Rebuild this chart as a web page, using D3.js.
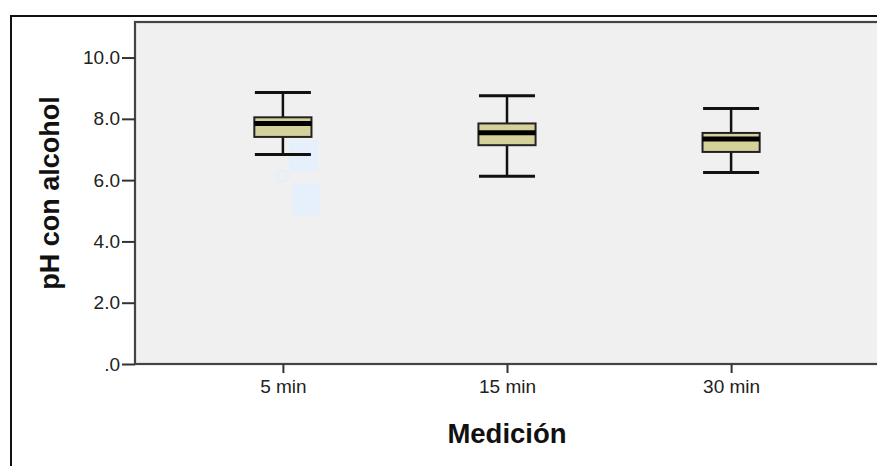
<!DOCTYPE html>
<html>
<head>
<meta charset="utf-8">
<script src="https://cdn.jsdelivr.net/npm/d3@7"></script>
<style>
	body { margin: 0; background: #fff; }
	svg { display: block; font-family: 'Liberation Sans', Arial, sans-serif; }
</style>
</head>
<body>
<div id="vis"></div>
<script>
// DATA
let groups = ['5 min', '15 min', '30 min'];
let whiskerLow = [6.84, 6.13, 6.25];
let q1 = [7.41, 7.14, 6.92];
let medians = [7.85, 7.55, 7.34];
let q3 = [8.05, 7.85, 7.54];
let whiskerHigh = [8.86, 8.75, 8.34];
let outliers = [{ group: '5 min', value: 6.13 }];
let yTicks = [0, 2, 4, 6, 8, 10];

// PARAMETERS
let width = 877,
	height = 466,
	plot = { left: 135, top: 22, right: 879, bottom: 364 };

// SCALES
let x = d3
		.scalePoint()
		.domain(groups)
		.range([plot.left, plot.right])
		.padding(0.66),
	y = d3
		.scaleLinear()
		.domain([0, 11.16])
		.range([plot.bottom, plot.top]);

let boxWidth = x.step() * 0.255,
	capWidth = x.step() * 0.125;

let svg = d3
	.select('#vis')
	.append('svg')
	.attr('width', width)
	.attr('height', height);

// OUTER FRAME
svg
	.append('rect')
	.attr('x', 11)
	.attr('y', 16)
	.attr('width', width)
	.attr('height', height)
	.attr('fill', 'none')
	.attr('stroke', '#111')
	.attr('stroke-width', 2);

// PLOT AREA (runs past the right edge of the picture)
svg
	.append('rect')
	.attr('x', plot.left)
	.attr('y', plot.top)
	.attr('width', plot.right - plot.left + 20)
	.attr('height', plot.bottom - plot.top)
	.attr('fill', '#f0f0f0')
	.attr('stroke', '#444')
	.attr('stroke-width', 2.2);

// AXES
let yAxis = d3
	.axisLeft(y)
	.tickValues(yTicks)
	.tickSize(13)
	.tickPadding(2)
	.tickFormat(d => (d === 0 ? '.0' : d3.format('.1f')(d)));

let gy = svg
	.append('g')
	.attr('transform', `translate(${plot.left}, 0)`)
	.call(yAxis);
gy.select('.domain').remove();
gy.selectAll('line').attr('stroke', '#333').attr('stroke-width', 2);
gy.selectAll('text')
	.attr('fill', '#222')
	.style('font-size', '19px');

let xAxis = d3.axisBottom(x).tickSize(9).tickPadding(7);
let gx = svg
	.append('g')
	.attr('transform', `translate(0, ${plot.bottom})`)
	.call(xAxis);
gx.select('.domain').remove();
gx.selectAll('line').attr('stroke', '#333').attr('stroke-width', 2);
gx.selectAll('text')
	.attr('fill', '#222')
	.style('font-size', '19px');

// AXIS TITLES
svg
	.append('text')
	.attr('transform', `translate(59, ${(plot.top + plot.bottom) / 2}) rotate(-90)`)
	.attr('text-anchor', 'middle')
	.attr('font-weight', 'bold')
	.attr('fill', '#111')
	.style('font-size', '27px')
	.text('pH con alcohol');

svg
	.append('text')
	.attr('x', x('15 min'))
	.attr('y', 443)
	.attr('text-anchor', 'middle')
	.attr('font-weight', 'bold')
	.attr('fill', '#111')
	.style('font-size', '27.5px')
	.text('Medición');

// OUTLIERS (faint, with blanked label boxes)
let out = svg.append('g').selectAll('g').data(outliers).enter().append('g');
out
	.append('rect')
	.attr('x', d => x(d.group) + 6)
	.attr('y', d => y(d.value) - 36)
	.attr('width', 29)
	.attr('height', 31)
	.attr('fill', '#e6f0fc');
out
	.append('rect')
	.attr('x', d => x(d.group) + 9)
	.attr('y', d => y(d.value) + 7)
	.attr('width', 28)
	.attr('height', 32)
	.attr('fill', '#e6f0fc');
out
	.append('circle')
	.attr('cx', d => x(d.group))
	.attr('cy', d => y(d.value))
	.attr('r', 5.5)
	.attr('fill', 'none')
	.attr('stroke', '#e6eef8')
	.attr('stroke-width', 2);

// BOXES
let boxes = svg
	.append('g')
	.selectAll('g')
	.data(groups)
	.enter()
	.append('g');

// whiskers
boxes
	.append('line')
	.attr('x1', d => x(d))
	.attr('x2', d => x(d))
	.attr('y1', (d, i) => y(whiskerLow[i]))
	.attr('y2', (d, i) => y(whiskerHigh[i]))
	.attr('stroke', '#111')
	.attr('stroke-width', 2.5);

['low', 'high'].forEach(end => {
	boxes
		.append('line')
		.attr('x1', d => x(d) - capWidth)
		.attr('x2', d => x(d) + capWidth)
		.attr('y1', (d, i) => y(end === 'low' ? whiskerLow[i] : whiskerHigh[i]))
		.attr('y2', (d, i) => y(end === 'low' ? whiskerLow[i] : whiskerHigh[i]))
		.attr('stroke', '#111')
		.attr('stroke-width', 3);
});

// box
boxes
	.append('rect')
	.attr('x', d => x(d) - boxWidth / 2)
	.attr('y', (d, i) => y(q3[i]))
	.attr('width', boxWidth)
	.attr('height', (d, i) => y(q1[i]) - y(q3[i]))
	.attr('fill', '#d5d19b')
	.attr('stroke', '#222')
	.attr('stroke-width', 2);

// median
boxes
	.append('line')
	.attr('x1', d => x(d) - boxWidth / 2)
	.attr('x2', d => x(d) + boxWidth / 2)
	.attr('y1', (d, i) => y(medians[i]))
	.attr('y2', (d, i) => y(medians[i]))
	.attr('stroke', '#000')
	.attr('stroke-width', 5);
</script>
</body>
</html>
